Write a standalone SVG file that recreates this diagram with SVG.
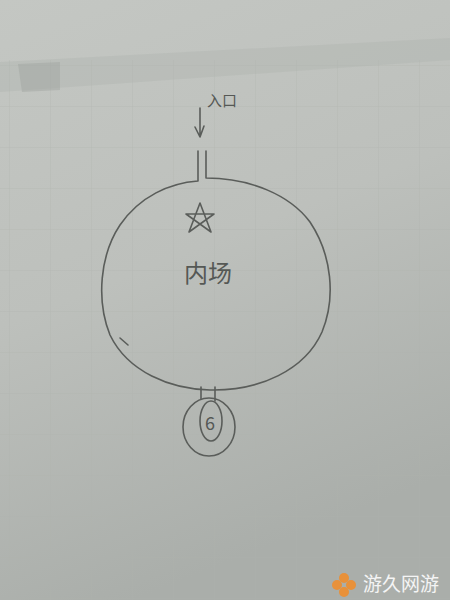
<svg xmlns="http://www.w3.org/2000/svg" width="450" height="600" viewBox="0 0 450 600">
<defs>
<linearGradient id="paper" x1="0" y1="0" x2="0.3" y2="1">
<stop offset="0" stop-color="#c4c7c3"/>
<stop offset="0.5" stop-color="#bdc0bc"/>
<stop offset="1" stop-color="#aaaeaa"/>
</linearGradient>
<pattern id="grid" width="41" height="41" patternUnits="userSpaceOnUse" x="10" y="25">
<path d="M41 0V41M0 41H41" fill="none" stroke="#aeb2ad" stroke-width="1"/>
</pattern>
</defs>
<style>
.pen{fill:none;stroke:#5a5d5a;stroke-width:1.6;stroke-linecap:round;stroke-linejoin:round}
.hand{font-family:"Noto Sans CJK SC","Noto Sans",sans-serif;fill:#555855}
</style>
<rect width="450" height="600" fill="url(#paper)"/>
<rect x="0" y="60" width="450" height="540" fill="url(#grid)" opacity="0.55"/>
<path d="M0 62 L450 38 L450 60 L0 92 Z" fill="#b0b3af" opacity="0.4"/>
<path d="M18 64 L60 62 L60 90 L22 92 Z" fill="#9fa39f" opacity="0.45"/>

<g id="entrance_label">
<text class="hand" x="222" y="106" font-size="15" text-anchor="middle">入口</text>
</g>
<g id="connectors">
<path class="pen" d="M200 108 V137 M195 127 L200 137 L204 126"/>
<path class="pen" d="M201 387 V399 M215 387 V401"/>
</g>
<g id="field">
<path class="pen" d="M198 151 V181 C170 183 140 196 120 225 C100 255 96 300 110 335 C128 372 170 389 210 390 C260 391 305 370 322 332 C336 298 332 255 310 222 C290 195 250 178 206 178 V151"/>
<path class="pen" d="M120 338 L128 345"/>
<path class="pen" d="M189 232 L200 203 L211 232 L186 214 L214 214 Z" stroke-width="1.5"/>
<text class="hand" x="208" y="282" font-size="24" text-anchor="middle">内场</text>
</g>
<g id="node6">
<ellipse class="pen" cx="209" cy="427" rx="26" ry="29"/>
<ellipse class="pen" cx="211" cy="421" rx="11" ry="20"/>
<text class="hand" x="210" y="430" font-size="18" text-anchor="middle">6</text>
</g>
<g id="watermark">
<g fill="#e8913a">
<circle cx="344" cy="578" r="5"/>
<circle cx="337" cy="585" r="5"/>
<circle cx="351" cy="585" r="5"/>
<circle cx="344" cy="592" r="5"/>
</g>
<text x="401" y="591" font-size="19" text-anchor="middle" fill="#f4f4f4" font-family="'Noto Sans CJK SC',sans-serif">游久网游</text>
</g>
</svg>
